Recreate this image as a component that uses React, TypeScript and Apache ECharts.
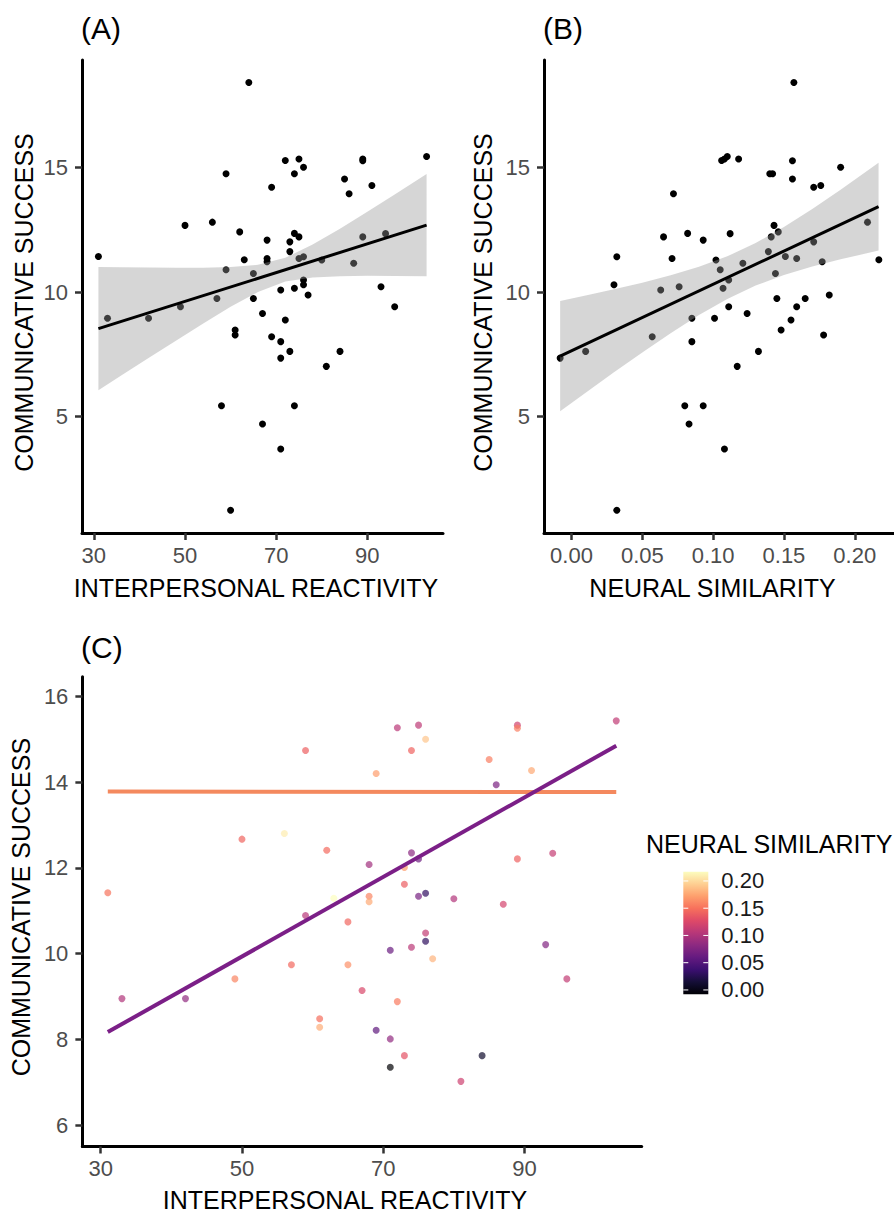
import React, { useEffect, useRef } from "react";
import * as echarts from "echarts";

// ---- participant values (one entry per participant) ----
const iri = [64,103,75,89,72,89,76,59,74,85,91,69,86,56,50,62,74,94,75,89,68,73,73,31,76,68,75,80,63,68,87,59,65,76,76,93,74,71,77,57,65,49,96,67,33,42,72,61,61,69,71,73,84,71,81,58,74,67,71,60];
const success = [18.4,15.43,15.33,15.33,15.27,15.26,15.0,14.74,14.74,14.53,14.27,14.2,13.94,12.8,12.67,12.41,12.35,12.34,12.21,12.21,12.08,12.01,11.62,11.42,11.41,11.34,11.34,11.28,11.29,11.21,11.15,10.89,10.74,10.48,10.29,10.21,10.15,10.08,9.88,9.74,9.74,9.41,9.41,9.14,8.95,8.95,8.88,8.48,8.28,8.21,8.01,7.62,7.62,7.35,7.02,5.44,5.44,4.71,3.71,1.25];
const neural = [0.157,0.110,0.108,0.118,0.106,0.156,0.190,0.140,0.142,0.156,0.176,0.171,0.072,0.209,0.143,0.146,0.082,0.112,0.065,0.141,0.093,0.171,0.139,0.151,0.032,0.159,0.071,0.102,0.217,0.177,0.121,0.105,0.144,0.111,0.030,0.076,0.107,0.063,0.182,0.145,0.165,0.159,0.111,0.124,0.101,0.085,0.155,0.148,0.178,0.057,0.085,0.132,0.010,-0.008,0.117,0.080,0.093,0.083,0.108,0.032];

// ---- fitted lines and 95% bands ----
const fitAx = [31, 103];
const fitAy = [8.53, 12.68];
const bandAx = [31, 36, 42, 48, 54, 60, 66, 72, 78, 84, 90, 96, 103];
const bandAlo = [6.06, 6.65, 7.35, 8.05, 8.74, 9.41, 10.0, 10.42, 10.58, 10.63, 10.65, 10.64, 10.63];
const bandAhi = [11.0, 10.99, 10.98, 10.97, 10.97, 11.0, 11.09, 11.37, 11.9, 12.54, 13.22, 13.91, 14.73];

const fitBx = [-0.008, 0.2168];
const fitBy = [7.43, 13.42];
const bandBx = [-0.008, 0.01, 0.03, 0.05, 0.07, 0.09, 0.11, 0.13, 0.15, 0.17, 0.19, 0.2168];
const bandBlo = [5.22, 5.96, 6.78, 7.58, 8.35, 9.08, 9.72, 10.26, 10.68, 11.02, 11.31, 11.66];
const bandBhi = [9.64, 9.86, 10.11, 10.37, 10.67, 11.01, 11.43, 11.96, 12.61, 13.33, 14.1, 15.18];

// interaction lines of panel C (low / high neural similarity)
const lineCx = [31, 103];
const lineLowY = [8.17, 14.85];
const lineHighY = [13.78, 13.77];

// ---- ticks ----
const iriTicks = [30, 50, 70, 90];
const nsTicks = [0, 0.05, 0.1, 0.15, 0.2];
const csTicksAB = [5, 10, 15];
const csTicksC = [6, 8, 10, 12, 14, 16];
const legendBreaks = [0, 0.05, 0.1, 0.15, 0.2];

const MAGMA = ["#000004", "#140E36", "#3B0F70", "#641A80", "#8C2981", "#B73779", "#DE4968", "#F7705C", "#FE9F6D", "#FECF92", "#FCFDBF"];

const FONT = '"Liberation Sans", Arial, Helvetica, sans-serif';

function xAx(gridIndex: number, min: number, max: number, ticks: number[], name: string, nameGap: number, padR: number, fmt?: (v: number) => string) {
  return {
    type: "value", gridIndex, min, max,
    axisLine: { show: true, onZero: false, lineStyle: { color: "#000", width: 3 } },
    axisTick: { show: true, length: 7, customValues: ticks, lineStyle: { color: "#333", width: 2.5 } },
    axisLabel: { customValues: ticks, margin: 11, fontSize: 22, color: "#4D4D4D", fontFamily: FONT, formatter: fmt },
    splitLine: { show: false },
    name, nameLocation: "middle", nameGap,
    nameTextStyle: { fontSize: 25, color: "#000", fontFamily: FONT, padding: [0, padR, 0, 0] },
  };
}

function yAx(gridIndex: number, min: number, max: number, ticks: number[], name: string, nameGap: number, pad: number[]) {
  return {
    type: "value", gridIndex, min, max,
    axisLine: { show: true, onZero: false, lineStyle: { color: "#000", width: 3 } },
    axisTick: { show: true, length: 7, customValues: ticks, lineStyle: { color: "#333", width: 2.5 } },
    axisLabel: { customValues: ticks, margin: 14, fontSize: 22, color: "#4D4D4D", fontFamily: FONT },
    splitLine: { show: false },
    name, nameLocation: "middle", nameGap,
    nameTextStyle: { fontSize: 25, color: "#000", fontFamily: FONT, padding: pad },
  };
}

function ribbon(axisIndex: number, xs: number[], lo: number[], hi: number[]) {
  return {
    type: "custom", xAxisIndex: axisIndex, yAxisIndex: axisIndex, z: 3, silent: true,
    data: [[xs[0], lo[0]]],
    renderItem: (_p: any, api: any) => {
      const pts: number[][] = [];
      xs.forEach((x, i) => pts.push(api.coord([x, hi[i]])));
      for (let i = xs.length - 1; i >= 0; i--) pts.push(api.coord([xs[i], lo[i]]));
      return { type: "polygon", shape: { points: pts }, style: { fill: "rgba(153,153,153,0.4)" } };
    },
  };
}

function fitLine(axisIndex: number, xs: number[], ys: number[], color: string, width: number, z: number) {
  return {
    type: "line", xAxisIndex: axisIndex, yAxisIndex: axisIndex, z, silent: true,
    data: xs.map((x, i) => [x, ys[i]]), symbol: "none",
    lineStyle: { color, width, cap: "butt" },
  };
}

export default function App() {
  const ref = useRef<HTMLDivElement>(null);

  useEffect(() => {
    const chart = echarts.init(ref.current!, null, { renderer: "svg" });
    const nsMin = Math.min(...neural);
    const nsMax = Math.max(...neural);
    const ptsA = iri.map((x, i) => [x, success[i]]);
    const ptsB = neural.map((x, i) => [x, success[i]]);
    const ptsC = iri.map((x, i) => [x, success[i], neural[i]]).filter((d) => d[1] > 6 && d[1] < 16);

    const option: any = {
      animation: false,
      backgroundColor: "#fff",
      textStyle: { fontFamily: FONT },
      grid: [
        { left: 82, top: 60, width: 361, height: 473 },
        { left: 544, top: 60, width: 361, height: 473 },
        { left: 82, top: 676.7, width: 559.7, height: 472.3 },
        { left: 683.3, top: 871.7, width: 25, height: 122.6 },
      ],
      xAxis: [
        xAx(0, 27.4, 106.6, iriTicks, "INTERPERSONAL REACTIVITY", 42, 13),
        xAx(1, -0.0194, 0.2277, nsTicks, "NEURAL SIMILARITY", 42, 13, (v: number) => v.toFixed(2)),
        xAx(2, 27.4, 106.6, iriTicks, "INTERPERSONAL REACTIVITY", 40.5, 34),
        { type: "value", gridIndex: 3, min: 0, max: 1, show: false },
      ],
      yAxis: [
        yAx(0, 0.34, 19.3, csTicksAB, "COMMUNICATIVE SUCCESS", 45.5, [0, 12, 0, 0]),
        yAx(1, 0.34, 19.3, csTicksAB, "COMMUNICATIVE SUCCESS", 48.5, [0, 12, 0, 0]),
        yAx(2, 5.5, 16.46, csTicksC, "COMMUNICATIVE SUCCESS", 45.5, [0, 0, 0, 9]),
        {
          type: "value", gridIndex: 3, min: nsMin, max: nsMax, position: "right",
          axisLine: { show: false }, axisTick: { show: false }, splitLine: { show: false },
          axisLabel: { customValues: legendBreaks, margin: 13, fontSize: 22, color: "#1A1A1A", fontFamily: FONT, formatter: (v: number) => v.toFixed(2) },
        },
      ],
      visualMap: [
        { type: "continuous", show: false, seriesIndex: 6, dimension: 2, min: nsMin, max: nsMax, inRange: { color: MAGMA } },
      ],
      series: [
        { type: "scatter", xAxisIndex: 0, yAxisIndex: 0, data: ptsA, symbolSize: 7, itemStyle: { color: "#000", opacity: 1 }, z: 2 },
        ribbon(0, bandAx, bandAlo, bandAhi),
        fitLine(0, fitAx, fitAy, "#000", 3, 4),
        { type: "scatter", xAxisIndex: 1, yAxisIndex: 1, data: ptsB, symbolSize: 7, itemStyle: { color: "#000", opacity: 1 }, z: 2 },
        ribbon(1, bandBx, bandBlo, bandBhi),
        fitLine(1, fitBx, fitBy, "#000", 3, 4),
        { type: "scatter", xAxisIndex: 2, yAxisIndex: 2, data: ptsC, symbolSize: 7, itemStyle: { opacity: 0.7 }, z: 2 },
        fitLine(2, lineCx, lineHighY, "#F4895E", 4, 4),
        fitLine(2, lineCx, lineLowY, "#7B1F87", 4, 5),
        {
          type: "custom", xAxisIndex: 3, yAxisIndex: 3, silent: true, data: [[0.5, 0.1]],
          renderItem: (_p: any, api: any) => {
            const tl = api.coord([0, nsMax]);
            const br = api.coord([1, nsMin]);
            const children: any[] = [
              {
                type: "rect",
                shape: { x: tl[0], y: tl[1], width: br[0] - tl[0], height: br[1] - tl[1] },
                style: { fill: new echarts.graphic.LinearGradient(0, 1, 0, 0, MAGMA.map((c, i) => ({ offset: i / (MAGMA.length - 1), color: c }))) },
              },
            ];
            legendBreaks.forEach((v) => {
              const p = api.coord([0, v]);
              const q = api.coord([1, v]);
              const w = (q[0] - p[0]) / 5;
              children.push({ type: "line", shape: { x1: p[0], y1: p[1], x2: p[0] + w, y2: p[1] }, style: { stroke: "#fff", lineWidth: 1 } });
              children.push({ type: "line", shape: { x1: q[0] - w, y1: q[1], x2: q[0], y2: q[1] }, style: { stroke: "#fff", lineWidth: 1 } });
            });
            return { type: "group", children };
          },
        },
      ],
      graphic: [
        { type: "text", left: 81, top: 13, style: { text: "(A)", fontSize: 30, fill: "#000", fontFamily: FONT } },
        { type: "text", left: 543, top: 13, style: { text: "(B)", fontSize: 30, fill: "#000", fontFamily: FONT } },
        { type: "text", left: 81, top: 632, style: { text: "(C)", fontSize: 30, fill: "#000", fontFamily: FONT } },
        { type: "text", left: 646, top: 831, style: { text: "NEURAL SIMILARITY", fontSize: 25, fill: "#000", fontFamily: FONT } },
      ],
    };
    chart.setOption(option);
    return () => chart.dispose();
  }, []);

  return <div ref={ref} style={{ position: "absolute", left: 0, top: 0, width: 894, height: 1213, background: "#fff" }} />;
}
